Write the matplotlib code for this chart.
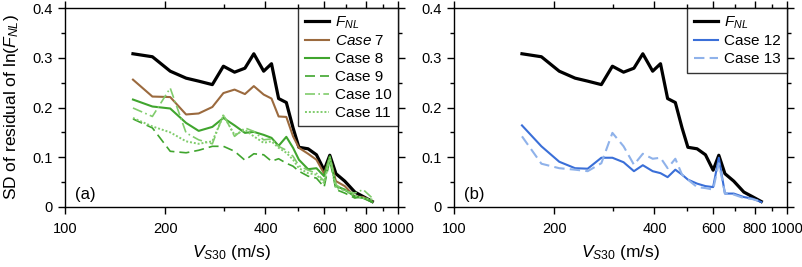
import numpy as np
import matplotlib
matplotlib.use('Agg')
from matplotlib import pyplot as plt
from matplotlib.ticker import FixedLocator, NullFormatter

plt.rcParams['font.family'] = ['Liberation Sans', 'DejaVu Sans']
plt.rcParams['mathtext.fontset'] = 'custom'
plt.rcParams['mathtext.rm'] = 'Liberation Sans'
plt.rcParams['mathtext.it'] = 'Liberation Sans:italic'

# Vs30 bins (m/s)
vs30 = [160, 183, 207, 231, 252, 277, 299, 323, 347, 369, 395, 417, 438,
        462, 484, 504, 537, 569, 600, 624, 651, 692, 742, 786, 837]

fnl = [0.308, 0.302, 0.273, 0.259, 0.253, 0.246, 0.283, 0.271, 0.279, 0.308,
       0.273, 0.288, 0.218, 0.210, 0.159, 0.120, 0.117, 0.105, 0.074, 0.104,
       0.067, 0.052, 0.030, 0.021, 0.011]
case7 = [0.256, 0.222, 0.221, 0.186, 0.188, 0.201, 0.229, 0.236, 0.227, 0.243,
         0.226, 0.218, 0.182, 0.181, 0.142, 0.119, 0.107, 0.095, 0.067, 0.099,
         0.052, 0.042, 0.021, 0.020, 0.011]
case8 = [0.216, 0.202, 0.198, 0.169, 0.153, 0.161, 0.179, 0.164, 0.149, 0.151,
         0.145, 0.139, 0.123, 0.141, 0.119, 0.095, 0.076, 0.078, 0.062, 0.102,
         0.042, 0.035, 0.021, 0.018, 0.010]
case9 = [0.177, 0.159, 0.112, 0.109, 0.114, 0.122, 0.122, 0.112, 0.094, 0.107,
         0.105, 0.092, 0.097, 0.088, 0.082, 0.072, 0.062, 0.058, 0.040, 0.095,
         0.035, 0.028, 0.018, 0.021, 0.011]
case10 = [0.199, 0.182, 0.239, 0.149, 0.135, 0.127, 0.186, 0.142, 0.159, 0.152,
          0.135, 0.137, 0.122, 0.114, 0.102, 0.083, 0.074, 0.068, 0.052, 0.101,
          0.045, 0.032, 0.028, 0.035, 0.018]
case11 = [0.179, 0.162, 0.150, 0.132, 0.127, 0.132, 0.184, 0.145, 0.155, 0.142,
          0.129, 0.132, 0.119, 0.109, 0.095, 0.078, 0.068, 0.065, 0.048, 0.097,
          0.038, 0.034, 0.023, 0.018, 0.015]
case12 = [0.164, 0.122, 0.091, 0.078, 0.077, 0.099, 0.099, 0.090, 0.072, 0.084,
          0.072, 0.068, 0.060, 0.075, 0.065, 0.055, 0.047, 0.042, 0.040, 0.099,
          0.027, 0.027, 0.020, 0.017, 0.010]
case13 = [0.142, 0.087, 0.078, 0.075, 0.072, 0.088, 0.149, 0.122, 0.085, 0.107,
          0.097, 0.099, 0.078, 0.097, 0.065, 0.055, 0.040, 0.038, 0.035, 0.088,
          0.028, 0.025, 0.018, 0.016, 0.011]

xmajor = [100, 200, 400, 600, 800, 1000]
xminor = [300, 500, 700, 900]
xticklabels = ['100', '200', '400', '600', '800', '1000']
ymajor = [0, 0.1, 0.2, 0.3, 0.4]
yminor = [0.05, 0.15, 0.25, 0.35]
yticklabels = ['0', '0.1', '0.2', '0.3', '0.4']

fig = plt.figure(figsize=(8.03, 2.67), dpi=100)
axA = fig.add_axes([65/803, 1-207/267, 333/803, 199/267])
axB = fig.add_axes([454/803, 1-207/267, 333/803, 199/267])

fnl_label = r'$\mathit{F}_{\mathit{NL}}$'

axA.plot(vs30, fnl, color='black', lw=2.3, label=fnl_label)
axA.plot(vs30, case7, color='#9b6a3e', lw=1.5, label='$\\mathit{Case\\ 7}$')
axA.plot(vs30, case8, color='#40a52e', lw=1.5, label='Case 8')
axA.plot(vs30, case9, color='#40a52e', lw=1.2, ls=(0, (6, 3)), label='Case 9')
axA.plot(vs30, case10, color='#80cc6c', lw=1.2, ls=(0, (6, 2, 1, 2)), label='Case 10')
axA.plot(vs30, case11, color='#80cc6c', lw=1.4, ls=(0, (1, 1)), label='Case 11')

axB.plot(vs30, fnl, color='black', lw=2.3, label=fnl_label)
axB.plot(vs30, case12, color='#3a6fd8', lw=1.5, label='Case 12')
axB.plot(vs30, case13, color='#8fb2ea', lw=1.5, ls=(0, (5, 2.5)), label='Case 13')

for ax, tag in [(axA, '(a)'), (axB, '(b)')]:
    ax.set_xscale('log')
    ax.set_xlim(100, 1000)
    ax.set_ylim(0, 0.4)
    ax.xaxis.set_major_locator(FixedLocator(xmajor))
    ax.xaxis.set_minor_locator(FixedLocator(xminor))
    ax.xaxis.set_minor_formatter(NullFormatter())
    ax.set_xticklabels(xticklabels)
    ax.yaxis.set_major_locator(FixedLocator(ymajor))
    ax.yaxis.set_minor_locator(FixedLocator(yminor))
    ax.set_yticklabels(yticklabels)
    ax.tick_params(which='major', direction='out', length=5, width=1,
                   top=True, right=True, labelsize=10.5, pad=4)
    ax.tick_params(which='minor', direction='out', length=3, width=1,
                   top=True, right=True)
    ax.tick_params(axis='x', which='major', pad=6)
    for s in ax.spines.values():
        s.set_linewidth(1.0)
    ax.text(0.03, 0.065, tag, transform=ax.transAxes, fontsize=12,
            va='center', ha='left')
    ax.set_xlabel('$\\mathit{V}_{\\mathit{S30}}$ (m/s)', fontsize=12.5, labelpad=5)
    leg = ax.legend(loc='upper right', fontsize=11, frameon=True, fancybox=False,
                    edgecolor='black', borderaxespad=0, handlelength=1.6,
                    labelspacing=0.26, borderpad=0.4, handletextpad=0.4)
    leg.get_frame().set_linewidth(1.0)

axA.set_ylabel('SD of residual of ln($\\mathit{F}_{\\mathit{NL}}$)', fontsize=12.5, labelpad=8)

fig.savefig('out.png', dpi=100)
